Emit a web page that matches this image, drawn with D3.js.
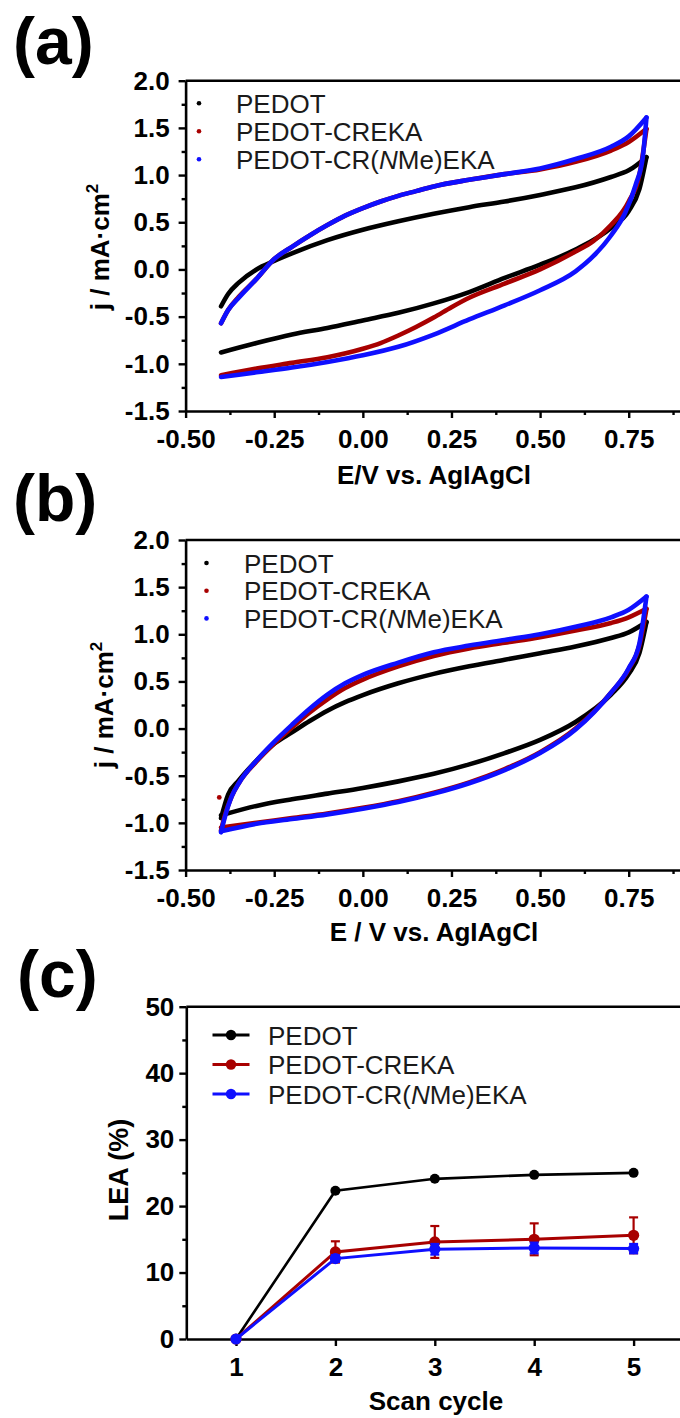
<!DOCTYPE html>
<html>
<head>
<meta charset="utf-8">
<script src="https://cdn.jsdelivr.net/npm/d3@7"></script>
<style>
body { margin: 0; background: #fff; }
text { font-family: "Liberation Sans", Arial, sans-serif; }
</style>
</head>
<body>
<script>
var W = 680, H = 1418;

var seriesNames = ["PEDOT", "PEDOT-CREKA", "PEDOT-CR(NMe)EKA"];
var seriesColors = ["#000000", "#a80000", "#0f0fff"];

// cyclic voltammograms, [E (V), j (mA/cm2)] -- anodic (up) and cathodic (down) branches
// (a)
var aPedotUp = [[-0.4,-0.39],[-0.38,-0.26],[-0.35,-0.14],[-0.3,0.0],[-0.25,0.09],[-0.2,0.17],[-0.1,0.31],[0,0.42],[0.1,0.51],[0.2,0.59],[0.3,0.66],[0.4,0.72],[0.5,0.79],[0.6,0.87],[0.7,0.98],[0.75,1.05],[0.8,1.19]];
var aPedotDown = [[-0.4,-0.88],[-0.3,-0.78],[-0.2,-0.69],[-0.1,-0.62],[0,-0.54],[0.1,-0.46],[0.2,-0.36],[0.3,-0.24],[0.4,-0.09],[0.5,0.05],[0.6,0.21],[0.7,0.44],[0.75,0.62],[0.78,0.85],[0.8,1.19]];
var aCrekaUp = [[-0.4,-0.57],[-0.38,-0.43],[-0.35,-0.29],[-0.3,-0.10],[-0.25,0.11],[-0.2,0.24],[-0.15,0.36],[-0.1,0.47],[-0.05,0.57],[0,0.65],[0.05,0.72],[0.1,0.78],[0.15,0.83],[0.2,0.88],[0.3,0.95],[0.4,1.01],[0.5,1.06],[0.6,1.14],[0.7,1.26],[0.75,1.35],[0.8,1.49]];
var aCrekaDown = [[-0.4,-1.12],[-0.3,-1.05],[-0.2,-0.99],[-0.1,-0.93],[0,-0.84],[0.05,-0.78],[0.1,-0.70],[0.15,-0.61],[0.2,-0.51],[0.25,-0.40],[0.3,-0.30],[0.4,-0.15],[0.5,0.0],[0.6,0.19],[0.65,0.30],[0.7,0.47],[0.75,0.72],[0.78,1.0],[0.8,1.49]];
var aNmeUp = [[-0.4,-0.57],[-0.38,-0.43],[-0.35,-0.30],[-0.3,-0.10],[-0.25,0.11],[-0.2,0.24],[-0.15,0.36],[-0.1,0.47],[-0.05,0.57],[0,0.65],[0.05,0.72],[0.1,0.78],[0.15,0.83],[0.2,0.88],[0.3,0.95],[0.4,1.01],[0.5,1.07],[0.6,1.17],[0.7,1.30],[0.75,1.41],[0.8,1.61]];
var aNmeDown = [[-0.4,-1.14],[-0.3,-1.09],[-0.2,-1.04],[-0.1,-0.98],[0,-0.91],[0.1,-0.82],[0.2,-0.69],[0.3,-0.53],[0.4,-0.38],[0.5,-0.22],[0.6,-0.02],[0.65,0.14],[0.7,0.36],[0.74,0.6],[0.77,0.9],[0.79,1.2],[0.8,1.61]];

// (b)
var bPedotUp = [[-0.4,-0.95],[-0.38,-0.70],[-0.35,-0.55],[-0.3,-0.34],[-0.25,-0.16],[-0.2,-0.04],[-0.15,0.08],[-0.1,0.19],[-0.05,0.28],[0,0.355],[0.1,0.48],[0.2,0.58],[0.3,0.66],[0.4,0.73],[0.5,0.80],[0.6,0.87],[0.7,0.96],[0.75,1.02],[0.8,1.13]];
var bPedotDown = [[-0.4,-0.92],[-0.3,-0.82],[-0.2,-0.75],[-0.1,-0.69],[0,-0.63],[0.1,-0.56],[0.2,-0.48],[0.3,-0.38],[0.4,-0.26],[0.5,-0.12],[0.6,0.07],[0.7,0.36],[0.75,0.58],[0.78,0.80],[0.8,1.13]];
var bCrekaUp = [[-0.4,-1.08],[-0.39,-0.93],[-0.37,-0.72],[-0.35,-0.58],[-0.3,-0.35],[-0.25,-0.16],[-0.2,0.01],[-0.15,0.17],[-0.1,0.31],[-0.05,0.43],[0,0.52],[0.1,0.66],[0.2,0.77],[0.3,0.85],[0.4,0.91],[0.5,0.97],[0.6,1.04],[0.7,1.12],[0.75,1.18],[0.8,1.27]];
var bCrekaDown = [[-0.4,-1.05],[-0.3,-1.0],[-0.2,-0.95],[-0.1,-0.90],[0,-0.84],[0.1,-0.77],[0.2,-0.68],[0.3,-0.57],[0.4,-0.43],[0.5,-0.25],[0.6,0.0],[0.7,0.38],[0.75,0.63],[0.78,0.88],[0.8,1.27]];
var bCrekaStray = [[-0.405,-0.73]];
var bNmeUp = [[-0.4,-1.1],[-0.39,-0.95],[-0.37,-0.72],[-0.35,-0.58],[-0.3,-0.34],[-0.25,-0.14],[-0.2,0.04],[-0.15,0.21],[-0.1,0.36],[-0.05,0.48],[0,0.57],[0.1,0.70],[0.2,0.81],[0.3,0.88],[0.4,0.94],[0.5,1.00],[0.6,1.08],[0.7,1.18],[0.75,1.26],[0.8,1.40]];
var bNmeDown = [[-0.4,-1.09],[-0.3,-1.01],[-0.2,-0.96],[-0.1,-0.91],[0,-0.85],[0.1,-0.78],[0.2,-0.69],[0.3,-0.58],[0.4,-0.44],[0.5,-0.26],[0.6,-0.01],[0.7,0.38],[0.75,0.64],[0.78,0.9],[0.8,1.40]];

// (c) loss of electroactivity vs scan cycle
var cycles = [1, 2, 3, 4, 5];
var leaPedot = [0, 22.3, 24.1, 24.7, 25.0];
var leaCreka = [0, 13.1, 14.6, 15.0, 15.6];
var leaCrekaErr = [0, 1.6, 2.4, 2.4, 2.7];
var leaNme = [0, 12.1, 13.5, 13.7, 13.6];
var leaNmeErr = [0, 0.5, 0.8, 0.8, 0.7];

var eTicks = [-0.5, -0.25, 0, 0.25, 0.5, 0.75];
var eMinor = [-0.375, -0.125, 0.125, 0.375, 0.625, 0.875];
var jTicks = [-1.5, -1.0, -0.5, 0, 0.5, 1.0, 1.5, 2.0];
var jMinor = [-1.25, -0.75, -0.25, 0.25, 0.75, 1.25, 1.75];
var leaTicks = [0, 10, 20, 30, 40, 50];
var leaMinor = [5, 15, 25, 35, 45];

var svg = d3.select("body").append("svg")
    .attr("width", W)
    .attr("height", H);

function styleAxis(g) {
  g.attr("font-family", null).attr("font-size", null);
  g.selectAll(".domain").attr("stroke", "#000").attr("stroke-width", 2.6);
  g.selectAll(".tick line").attr("stroke", "#000").attr("stroke-width", 2.4);
  g.selectAll(".tick text")
    .attr("fill", "#000")
    .style("font-size", "26px")
    .style("font-weight", "bold");
}

// axes + frame for one panel
function drawAxes(x, y, o) {
  var y0 = y.range()[0], y1 = y.range()[1], x0 = x.range()[0];
  // top edge of the box (right edge is outside the page)
  svg.append("line")
    .attr("x1", x0).attr("x2", W + 10)
    .attr("y1", y1).attr("y2", y1)
    .attr("stroke", "#000").attr("stroke-width", 2.6);

  svg.append("g")
    .attr("transform", "translate(0," + y0 + ")")
    .call(d3.axisBottom(x).tickValues(o.xMinor).tickFormat("").tickSize(4))
    .call(styleAxis)
    .select(".domain").remove();
  svg.append("g")
    .attr("transform", "translate(" + x0 + ",0)")
    .call(d3.axisLeft(y).tickValues(o.yMinor).tickFormat("").tickSize(4))
    .call(styleAxis)
    .select(".domain").remove();

  svg.append("g")
    .attr("transform", "translate(0," + y0 + ")")
    .call(d3.axisBottom(x).tickValues(o.xTicks).tickFormat(o.xFmt)
      .tickSizeInner(7).tickSizeOuter(0).tickPadding(12))
    .call(styleAxis);
  svg.append("g")
    .attr("transform", "translate(" + x0 + ",0)")
    .call(d3.axisLeft(y).tickValues(o.yTicks).tickFormat(o.yFmt)
      .tickSizeInner(7).tickSizeOuter(0).tickPadding(o.yPad))
    .call(styleAxis);
}

function panelLabel(txt, px, py) {
  svg.append("text")
    .attr("x", px).attr("y", py)
    .style("font-size", "66px")
    .style("font-weight", "bold")
    .text(txt);
}

function yTitle(cx, cy, build) {
  var t = svg.append("text")
    .attr("transform", "translate(" + cx + "," + cy + ") rotate(-90)")
    .attr("text-anchor", "middle")
    .style("font-size", "26px")
    .style("font-weight", "bold");
  build(t);
}

function xTitle(txt, cx, by) {
  svg.append("text")
    .attr("x", cx).attr("y", by)
    .attr("text-anchor", "middle")
    .style("font-size", "26px")
    .style("font-weight", "bold")
    .text(txt);
}

function currentTitle(t) {
  t.append("tspan").text("j / mA\u00b7cm");
  t.append("tspan").attr("dy", -11).style("font-size", "17px").text("2");
}

function cvPanel(top, bottom, loops, legend) {
  var x = d3.scaleLinear().domain([-0.5, 1.0]).range([185.6, 185.6 + 1.5 * 354.5]);
  var y = d3.scaleLinear().domain([-1.5, 2.0]).range([bottom, top]);

  drawAxes(x, y, {
    xTicks: eTicks, xMinor: eMinor, xFmt: function(d) { return d.toFixed(2); },
    yTicks: jTicks, yMinor: jMinor, yFmt: function(d) { return d.toFixed(1); }, yPad: 9
  });

  var line = d3.line()
    .x(function(d) { return x(d[0]); })
    .y(function(d) { return y(d[1]); })
    .curve(d3.curveMonotoneX);

  loops.forEach(function(l, i) {
    [l.up, l.down].forEach(function(branch) {
      svg.append("path")
        .attr("d", line(branch))
        .attr("fill", "none")
        .attr("stroke", seriesColors[i])
        .attr("stroke-width", 4.6)
        .attr("stroke-linecap", "round")
        .attr("stroke-linejoin", "round");
    });
    if (l.stray) {
      svg.selectAll(null).data(l.stray).enter().append("circle")
        .attr("cx", function(d) { return x(d[0]); })
        .attr("cy", function(d) { return y(d[1]); })
        .attr("r", 2.4)
        .attr("fill", seriesColors[i]);
    }
  });

  // legend: small dot + name
  seriesNames.forEach(function(name, i) {
    var ly = legend.y + i * legend.dy;
    svg.append("circle")
      .attr("cx", legend.dotX).attr("cy", ly)
      .attr("r", 2.3)
      .attr("fill", seriesColors[i]);
    var t = svg.append("text")
      .attr("x", legend.textX).attr("y", ly + 9.5)
      .attr("fill", "#1a1a1a")
      .style("font-size", "26px");
    legendName(t, name);
  });
}

// the N in CR(NMe) is set in italics
function legendName(t, name) {
  var m = name.match(/^(.*\()N(Me.*)$/);
  if (!m) { t.text(name); return; }
  t.append("tspan").text(m[1]);
  t.append("tspan").style("font-style", "italic").text("N");
  t.append("tspan").text(m[2]);
}

// (a)
panelLabel("(a)", 13, 64);
cvPanel(80.7, 411, [
  {up: aPedotUp, down: aPedotDown},
  {up: aCrekaUp, down: aCrekaDown},
  {up: aNmeUp, down: aNmeDown}
], {dotX: 199, textX: 236, y: 103.3, dy: 28});
yTitle(109, 247, currentTitle);
xTitle("E/V vs. AgIAgCl", 434, 484);

// (b)
panelLabel("(b)", 13, 521);
cvPanel(540, 870, [
  {up: bPedotUp, down: bPedotDown},
  {up: bCrekaUp, down: bCrekaDown, stray: bCrekaStray},
  {up: bNmeUp, down: bNmeDown}
], {dotX: 206.5, textX: 244, y: 563, dy: 27.7});
yTitle(113, 705, currentTitle);
xTitle("E / V vs. AgIAgCl", 434, 941);

// (c)
panelLabel("(c)", 17, 997);
(function() {
  var x = d3.scaleLinear().domain([0.5, 5.6]).range([186.3, 186.3 + 5.1 * 99.4]);
  var y = d3.scaleLinear().domain([0, 50]).range([1339, 1006.7]);

  drawAxes(x, y, {
    xTicks: cycles, xMinor: [], xFmt: d3.format("d"),
    yTicks: leaTicks, yMinor: leaMinor, yFmt: d3.format("d"), yPad: 5
  });

  var sets = [
    {vals: leaPedot, err: null, r: 5, w: 2.6},
    {vals: leaCreka, err: leaCrekaErr, r: 5.6, w: 3},
    {vals: leaNme, err: leaNmeErr, r: 5.6, w: 3}
  ];
  var line = d3.line()
    .x(function(d) { return x(d.c); })
    .y(function(d) { return y(d.v); });

  sets.forEach(function(s, i) {
    var pts = cycles.map(function(c, k) {
      return {c: c, v: s.vals[k], e: s.err ? s.err[k] : 0};
    });
    var col = seriesColors[i];
    // error bars (upper and lower whiskers with caps)
    if (s.err) {
      var eb = svg.append("g").attr("stroke", col).attr("stroke-width", 2.2);
      pts.filter(function(d) { return d.e > 0; }).forEach(function(d) {
        var cx = x(d.c);
        eb.append("line").attr("x1", cx).attr("x2", cx)
          .attr("y1", y(d.v - d.e)).attr("y2", y(d.v + d.e));
        [d.v - d.e, d.v + d.e].forEach(function(v) {
          eb.append("line").attr("x1", cx - 4.5).attr("x2", cx + 4.5)
            .attr("y1", y(v)).attr("y2", y(v));
        });
      });
    }
    svg.append("path")
      .attr("d", line(pts))
      .attr("fill", "none")
      .attr("stroke", col)
      .attr("stroke-width", s.w);
    svg.selectAll(null).data(pts).enter().append("circle")
      .attr("cx", function(d) { return x(d.c); })
      .attr("cy", function(d) { return y(d.v); })
      .attr("r", s.r)
      .attr("fill", col);
  });

  // legend: line + marker + name
  seriesNames.forEach(function(name, i) {
    var ly = 1035 + i * 29.5;
    svg.append("line")
      .attr("x1", 212.5).attr("x2", 249.5)
      .attr("y1", ly).attr("y2", ly)
      .attr("stroke", seriesColors[i]).attr("stroke-width", 3);
    svg.append("circle")
      .attr("cx", 231).attr("cy", ly).attr("r", 5.2)
      .attr("fill", seriesColors[i]);
    var t = svg.append("text")
      .attr("x", 268).attr("y", ly + 9.5)
      .attr("fill", "#1a1a1a")
      .style("font-size", "26px");
    legendName(t, name);
  });

  yTitle(128, 1170, function(t) { t.text("LEA (%)"); t.style("font-size", "27px"); });
  xTitle("Scan cycle", 436, 1410);
})();
</script>
</body>
</html>
